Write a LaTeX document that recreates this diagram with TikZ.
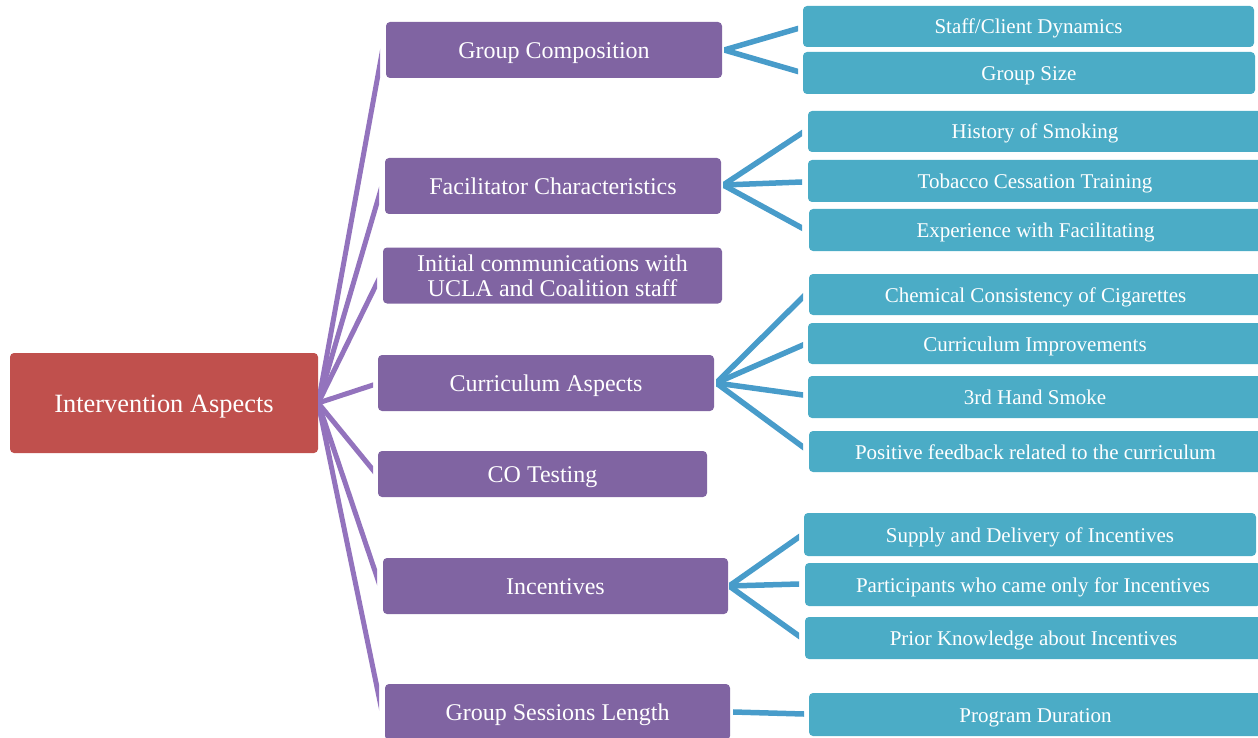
\documentclass[tikz,border=0pt]{standalone}
\usepackage{fontspec}
\setmainfont{Liberation Serif}
\usetikzlibrary{calc}

\definecolor{rootred}{HTML}{C0504D}
\definecolor{catpurple}{HTML}{8064A2}
\definecolor{leafblue}{HTML}{4BACC6}
\definecolor{purpleline}{HTML}{9373BD}
\definecolor{blueline}{HTML}{489CCA}

% A straight connector from #2 towards #3, cut off by vertical lines
% through both points.
\newcommand\branch[3]{%
  \begin{scope}
    \clip (#2 |- topref) rectangle (#3 |- botref);
    \draw[#1] ($(#2)!-0.3!(#3)$) -- ($(#2)!1.3!(#3)$);
  \end{scope}}

\begin{document}
\begin{tikzpicture}[x=1pt,y=-1pt,
  box/.style={rounded corners=4pt, text=white, inner sep=0pt, align=center},
  rootbox/.style={box, fill=rootred, font=\fontsize{26.4}{30}\selectfont,
                  text height=21pt, text depth=3pt},
  catbox/.style={box, fill=catpurple, font=\fontsize{24}{25}\selectfont},
  catline/.style={catbox, text height=20pt, text depth=3pt},
  leafbox/.style={box, fill=leafblue, font=\fontsize{21}{24}\selectfont,
                  text height=18pt, text depth=3pt},
  catlink/.style={draw=purpleline, line width=5pt},
  leaflink/.style={draw=blueline, line width=5.5pt}]
\useasboundingbox (0,0) rectangle (1258,738);
\coordinate (topref) at (0,-20);
\coordinate (botref) at (0,760);

% root
\node[rootbox, minimum width=308, minimum height=100] (root) at (164,403) {Intervention Aspects};

% categories
\node[catline, minimum width=336, minimum height=56] (gc)  at (554,50)    {Group Composition};
\node[catline, minimum width=336, minimum height=56] (fc)  at (553,186)   {Facilitator Characteristics};
\node[catbox,  minimum width=339, minimum height=56] (ic)  at (552.5,275.5) {Initial communications with\\UCLA and Coalition staff};
\node[catline, minimum width=336, minimum height=56] (ca)  at (546,383)   {Curriculum Aspects};
\node[catline, minimum width=329, minimum height=46] (co)  at (542.5,474) {CO Testing};
\node[catline, minimum width=345, minimum height=56] (inc) at (555.5,586) {Incentives};
\node[catline, minimum width=345, minimum height=56] (gs)  at (557.5,712) {Group Sessions Length};

% details
\node[leafbox, minimum width=451, minimum height=41] (l1)  at (1028.5,26.5) {Staff/Client Dynamics};
\node[leafbox, minimum width=452, minimum height=42] (l2)  at (1029,73)     {Group Size};
\node[leafbox, minimum width=454, minimum height=41] (l3)  at (1035,131.5)  {History of Smoking};
\node[leafbox, minimum width=454, minimum height=42] (l4)  at (1035,181)    {Tobacco Cessation Training};
\node[leafbox, minimum width=453, minimum height=42] (l5)  at (1035.5,230)  {Experience with Facilitating};
\node[leafbox, minimum width=453, minimum height=41] (l6)  at (1035.5,294.5){Chemical Consistency of Cigarettes};
\node[leafbox, minimum width=454, minimum height=41] (l7)  at (1035,343.5)  {Curriculum Improvements};
\node[leafbox, minimum width=454, minimum height=42] (l8)  at (1035,397)    {3rd Hand Smoke};
\node[leafbox, minimum width=453, minimum height=41] (l9)  at (1035.5,451.5){Positive feedback related to the curriculum};
\node[leafbox, minimum width=452, minimum height=43] (l10) at (1030,534.5)  {Supply and Delivery of Incentives};
\node[leafbox, minimum width=456, minimum height=43] (l11) at (1033,584.5)  {Participants who came only for Incentives};
\node[leafbox, minimum width=457, minimum height=42] (l12) at (1033.5,638)  {Prior Knowledge about Incentives};
\node[leafbox, minimum width=453, minimum height=43] (l13) at (1035.5,714.5){Program Duration};

% connector ends
\coordinate (gcIn)  at (380,64);
\coordinate (fcIn)  at (379,196);
\coordinate (icIn)  at (377,283);
\coordinate (caIn)  at (373,385);
\coordinate (coIn)  at (373,470);
\coordinate (incIn) at (377,577);
\coordinate (gsIn)  at (379,697);

\coordinate (gcOut)  at ($(gc.east)+(2,0)$);
\coordinate (fcOut)  at ($(fc.east)+(2,-1)$);
\coordinate (caOut)  at ($(ca.east)+(2,0)$);
\coordinate (incOut) at ($(inc.east)+(1,0)$);
\coordinate (gsOut)  at ($(gs.east)+(3,0)$);

\coordinate (l1In)  at (798,28.5);
\coordinate (l2In)  at (798,71.5);
\coordinate (l3In)  at (802,133);
\coordinate (l4In)  at (802,182);
\coordinate (l5In)  at (802,228);
\coordinate (l6In)  at (803,297);
\coordinate (l7In)  at (803,345);
\coordinate (l8In)  at (803,395);
\coordinate (l9In)  at (803,447);
\coordinate (l10In) at (799,537);
\coordinate (l11In) at (799,584);
\coordinate (l12In) at (799,636);
\coordinate (l13In) at (804,714);

% root to categories
\foreach \c in {gcIn,fcIn,icIn,caIn,coIn,incIn,gsIn}
  {\branch{catlink}{root.east}{\c}}

% categories to details
\branch{leaflink}{gcOut}{l1In}
\branch{leaflink}{gcOut}{l2In}
\branch{leaflink}{fcOut}{l3In}
\branch{leaflink}{fcOut}{l4In}
\branch{leaflink}{fcOut}{l5In}
\branch{leaflink}{caOut}{l6In}
\branch{leaflink}{caOut}{l7In}
\branch{leaflink}{caOut}{l8In}
\branch{leaflink}{caOut}{l9In}
\branch{leaflink}{incOut}{l10In}
\branch{leaflink}{incOut}{l11In}
\branch{leaflink}{incOut}{l12In}
\branch{leaflink}{gsOut}{l13In}
\end{tikzpicture}
\end{document}
